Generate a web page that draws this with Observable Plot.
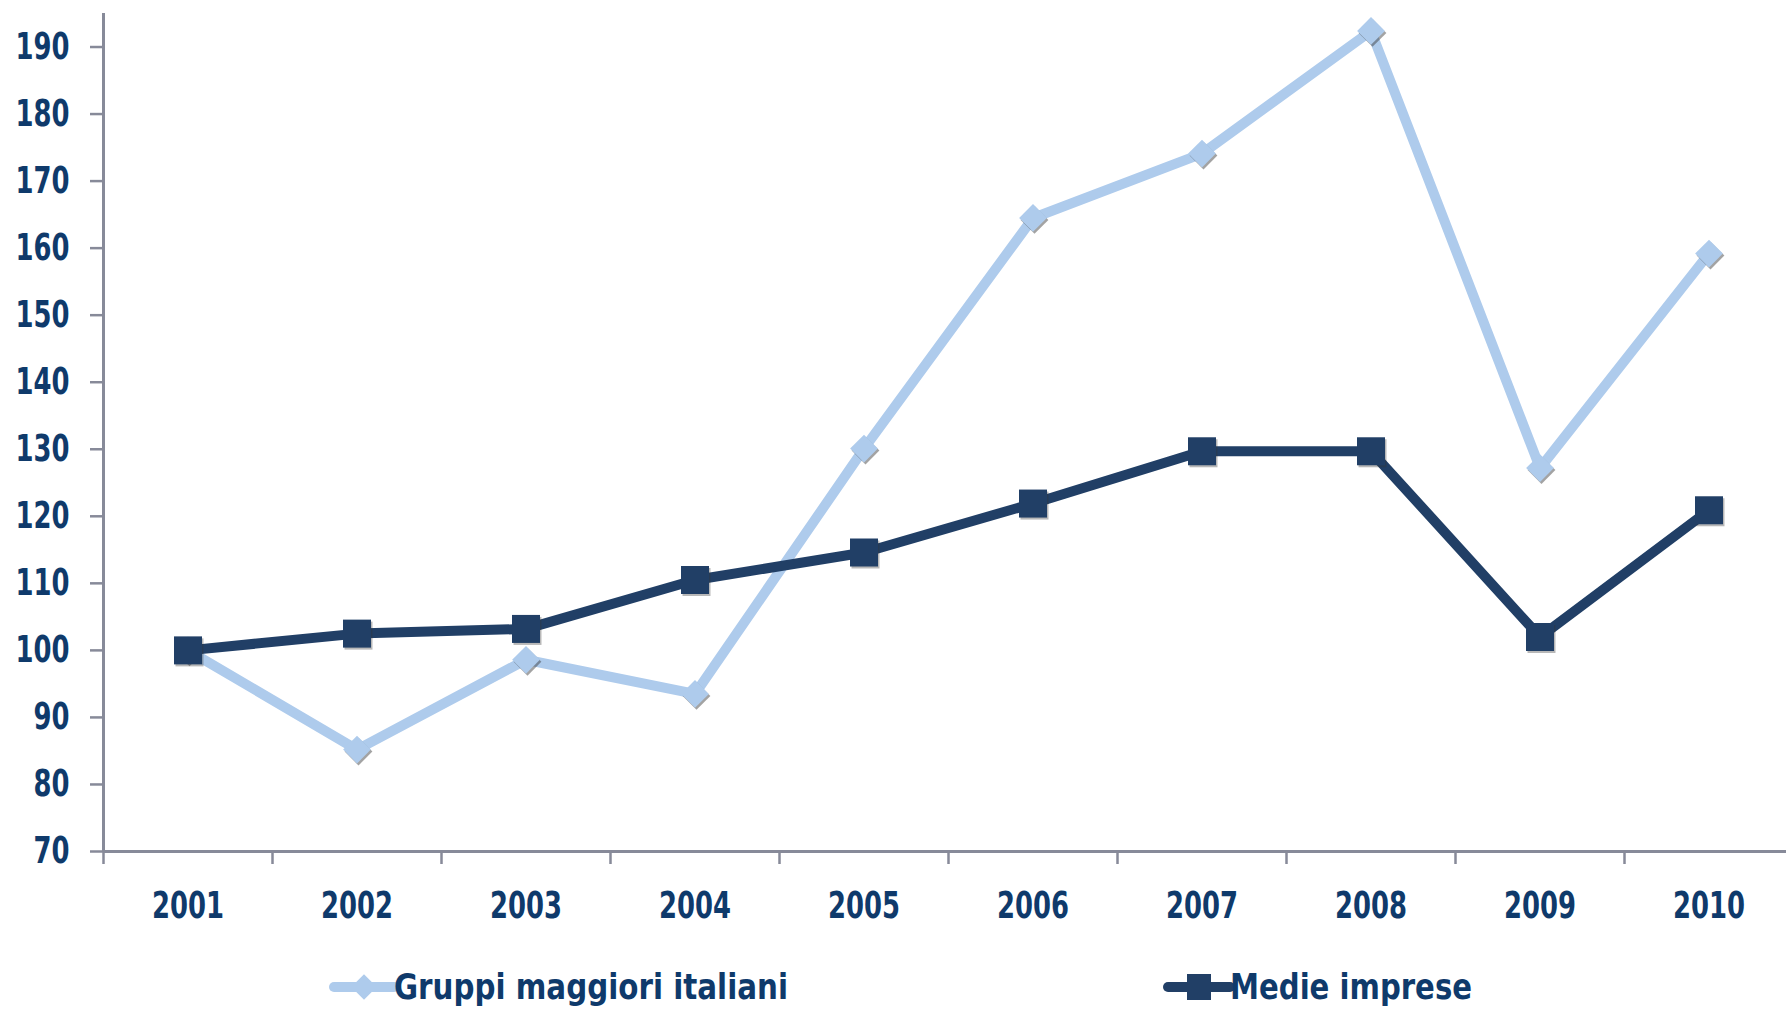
<!DOCTYPE html>
<html>
<head>
<meta charset="utf-8">
<script src="https://cdn.jsdelivr.net/npm/d3@7"></script>
<script src="https://cdn.jsdelivr.net/npm/@observablehq/plot@0.6"></script>
<style>
  body { margin: 0; background: #fff; }
  #wrap { position: relative; width: 1786px; height: 1009px; overflow: hidden; background: #fff; }
  #wrap svg text { font-weight: bold; }
</style>
</head>
<body>
<div id="wrap"><div id="chart"></div><div id="legend"></div></div>
<script>
// ---- data ----
const years = [2001, 2002, 2003, 2004, 2005, 2006, 2007, 2008, 2009, 2010];
const gruppi = [100, 85.2, 98.6, 93.5, 130.1, 164.5, 174.1, 192.4, 127.2, 159.2];
const medie  = [100, 102.5, 103.2, 110.5, 114.6, 121.9, 129.7, 129.7, 102.0, 120.9];
const yTicks = [70, 80, 90, 100, 110, 120, 130, 140, 150, 160, 170, 180, 190];
const seriesNames = ["Gruppi maggiori italiani", "Medie imprese"];

// ---- style ----
const FONT = "'DejaVu Sans', Verdana, sans-serif";
const NAVY = "#0f3a6b";
const GRAY = "#878a99";
const LIGHT = "#aecbec";
const DARK = "#213f66";
const DIGIT_W = 18; // squeezed glyph width, as in the reference

const rowsG = years.map((y, i) => ({year: y, value: gruppi[i], series: seriesNames[0]}));
const rowsM = years.map((y, i) => ({year: y, value: medie[i], series: seriesNames[1]}));
const bounds = years.map(y => y - 0.5).concat([years[years.length - 1] + 0.5]);

const chart = Plot.plot({
  width: 1786,
  height: 940,
  marginLeft: 103,
  marginRight: 0,
  marginTop: 0,
  marginBottom: 89,
  style: {fontFamily: FONT, background: "#fff", overflow: "visible"},
  x: {type: "linear", domain: [2000.5, 2010.5], range: [103, 1793]},
  y: {domain: [70, 195], range: [851, 13]},
  marks: [
    // axis lines
    Plot.ruleX([2000.5], {y1: 70, y2: 195, stroke: GRAY, strokeWidth: 3}),
    Plot.ruleY([70], {stroke: GRAY, strokeWidth: 3}),
    // y ticks + labels
    Plot.axisY({ticks: yTicks, label: null, tickSize: 13, tickFormat: () => "", stroke: GRAY, strokeWidth: 2.5, strokeOpacity: 1}),
    Plot.axisY({ticks: yTicks, label: null, tickSize: 0, tickPadding: 34, tickFormat: d => String(d), fill: NAVY, fontSize: 37, fontWeight: "bold"}),
    // x boundary ticks + labels
    Plot.axisX({ticks: bounds, label: null, tickSize: 13, tickFormat: () => "", stroke: GRAY, strokeWidth: 2.5, strokeOpacity: 1}),
    Plot.axisX({ticks: years, label: null, tickSize: 0, tickPadding: 40, tickFormat: d => String(d), fill: NAVY, fontSize: 37, fontWeight: "bold"}),
    // Gruppi maggiori italiani
    Plot.line(rowsG, {x: "year", y: "value", stroke: LIGHT, strokeWidth: 10, strokeLinejoin: "miter"}),
    Plot.dot(rowsG, {x: "year", y: "value", symbol: "diamond2", r: 12.5, fill: "#333", fillOpacity: 0.45, dx: 1.5, dy: 2}),
    Plot.dot(rowsG, {x: "year", y: "value", symbol: "diamond2", r: 12.5, fill: LIGHT}),
    // Medie imprese
    Plot.line(rowsM, {x: "year", y: "value", stroke: DARK, strokeWidth: 10, strokeLinejoin: "miter"}),
    Plot.dot(rowsM, {x: "year", y: "value", symbol: "square", r: 15.8, fill: "#333", fillOpacity: 0.35, dx: 1.5, dy: 2}),
    Plot.dot(rowsM, {x: "year", y: "value", symbol: "square", r: 15.8, fill: DARK})
  ]
});
document.getElementById("chart").appendChild(chart);

// squeeze the tick label glyphs horizontally, like the reference's condensed face
d3.select(chart).selectAll("text").each(function() {
  const t = this.textContent;
  if (t && /^\d+$/.test(t)) {
    this.setAttribute("textLength", t.length * DIGIT_W);
    this.setAttribute("lengthAdjust", "spacingAndGlyphs");
  }
});

// ---- legend (below the plot) ----
const leg = d3.select("#legend")
  .style("position", "absolute").style("left", "0px").style("top", "940px")
  .append("svg").attr("width", 1786).attr("height", 69)
  .style("font-family", FONT);

const items = [
  {name: seriesNames[0], color: LIGHT, x0: 334, x1: 394, sym: "diamond", w: 394},
  {name: seriesNames[1], color: DARK, x0: 1168, x1: 1230, sym: "square", w: 242}
];
items.forEach(it => {
  const g = leg.append("g");
  const cx = (it.x0 + it.x1) / 2;
  g.append("line").attr("x1", it.x0).attr("x2", it.x1).attr("y1", 47).attr("y2", 47)
    .attr("stroke", it.color).attr("stroke-width", 10).attr("stroke-linecap", "round");
  if (it.sym === "diamond") {
    g.append("path").attr("d", d3.symbol(d3.symbolDiamond2, 11.5 * 11.5 * Math.PI)())
      .attr("transform", `translate(${cx},47)`).attr("fill", it.color);
  } else {
    g.append("rect").attr("x", cx - 12).attr("y", 34).attr("width", 24).attr("height", 26).attr("fill", it.color);
  }
  g.append("text").attr("x", it.x1).attr("y", 59).attr("fill", NAVY)
    .attr("font-size", 36).attr("font-weight", "bold")
    .attr("textLength", it.w).attr("lengthAdjust", "spacingAndGlyphs")
    .text(it.name);
});
</script>
</body>
</html>
